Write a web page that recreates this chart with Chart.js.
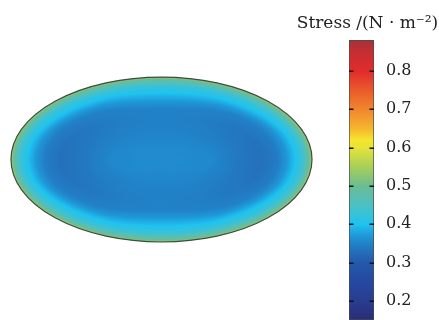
<!DOCTYPE html>
<html>
<head>
<meta charset="utf-8">
<script src="https://cdn.jsdelivr.net/npm/chart.js@4.4.1/dist/chart.umd.min.js"></script>
<style>
  html, body { margin: 0; padding: 0; background: #fff; }
  #wrap { position: relative; width: 439px; height: 320px; overflow: hidden; }
  #field { position: absolute; left: 0; top: 0; width: 323px; height: 320px; }
  #bar { position: absolute; left: 296px; top: 0; width: 143px; height: 320px; }
</style>
</head>
<body>
<div id="wrap">
  <div id="field"><canvas id="fieldCanvas"></canvas></div>
  <div id="bar"><canvas id="barCanvas"></canvas></div>
</div>
<script>
// membrane semi-axes (length units)
const semiAxisX = 1.0;
const semiAxisY = 0.548;

// stress walking in from the rim along the long axis
const sideDepth  = [0, 0.027, 0.06, 0.113, 0.166, 0.233, 0.332, 0.465, 0.664, 1.0];
const sideStress = [0.54, 0.48, 0.435, 0.40, 0.37, 0.343, 0.33, 0.337, 0.355, 0.36];

// stress walking in from the rim along the short axis
const topDepth  = [0, 0.027, 0.053, 0.106, 0.16, 0.213, 0.3, 0.548];
const topStress = [0.53, 0.475, 0.435, 0.40, 0.37, 0.35, 0.348, 0.36];

// colour bar range and ticks
const barRange   = [0.1504, 0.8809];
const tickValues = [0.2, 0.3, 0.4, 0.5, 0.6, 0.7, 0.8];

// jet-like colour map
const cmapStops  = [0.15, 0.2, 0.25, 0.3, 0.33, 0.35, 0.37, 0.4, 0.45, 0.5, 0.55, 0.6, 0.62, 0.65, 0.7, 0.75, 0.8, 0.85, 0.88];
const cmapColors = ['#2b2d74', '#293d90', '#2549a0', '#2459aa', '#2470bb', '#2182c8', '#1f98d8', '#1ec3f0',
                    '#4cc0c4', '#6cbc94', '#a8cf58', '#e6e33a', '#f5e52e', '#f5b52e', '#f0862d', '#ea5a2b',
                    '#e22b2c', '#c52e33', '#a2323b'];

const cmapRgb = cmapColors.map(h => [1, 3, 5].map(i => parseInt(h.substr(i, 2), 16)));

function lerpTable(xs, ys, v) {
  if (v <= xs[0]) return ys[0];
  for (let i = 1; i < xs.length; i++) {
    if (v <= xs[i]) {
      const t = (v - xs[i - 1]) / (xs[i] - xs[i - 1]);
      return ys[i - 1] + t * (ys[i] - ys[i - 1]);
    }
  }
  return ys[ys.length - 1];
}

function stressColor(s) {
  const n = cmapStops.length;
  if (s <= cmapStops[0]) return cmapRgb[0];
  if (s >= cmapStops[n - 1]) return cmapRgb[n - 1];
  let i = 1;
  while (s > cmapStops[i]) i++;
  const t = (s - cmapStops[i - 1]) / (cmapStops[i] - cmapStops[i - 1]);
  const a = cmapRgb[i - 1], b = cmapRgb[i];
  return [0, 1, 2].map(k => a[k] + t * (b[k] - a[k]));
}

// paints the stress field inside the ellipse, then its outline
const stressField = {
  id: 'stressField',
  beforeDatasetsDraw(chart) {
    const { ctx, scales: { x, y } } = chart;
    const cx = x.getPixelForValue(0), cy = y.getPixelForValue(0);
    const rx = x.getPixelForValue(semiAxisX) - cx;
    const ry = cy - y.getPixelForValue(semiAxisY);
    const x0 = Math.floor(cx - rx - 2), x1 = Math.ceil(cx + rx + 2);
    const y0 = Math.floor(cy - ry - 2), y1 = Math.ceil(cy + ry + 2);
    const w = x1 - x0, h = y1 - y0;

    const off = document.createElement('canvas');
    off.width = w; off.height = h;
    const octx = off.getContext('2d');
    const img = octx.createImageData(w, h);

    for (let j = 0; j < h; j++) {
      const dy = y.getValueForPixel(y0 + j + 0.5);
      for (let i = 0; i < w; i++) {
        const dx = x.getValueForPixel(x0 + i + 0.5);
        const u = dx / semiAxisX, v = dy / semiAxisY;
        const r = Math.hypot(u, v);
        let depth = Infinity;
        if (r > 1e-6) {
          const dRay = Math.hypot(dx, dy) * (1 - r) / r;
          const g = 2 * Math.hypot(dx / (semiAxisX * semiAxisX), dy / (semiAxisY * semiAxisY));
          const dGrad = (1 - r * r) / g;
          depth = Math.max(0, Math.min(dRay, dGrad));
        }
        const wSide = (u * u) / (u * u + v * v + 1e-12);
        const s = wSide * lerpTable(sideDepth, sideStress, depth) +
                  (1 - wSide) * lerpTable(topDepth, topStress, depth);
        const c = stressColor(s);
        const p = (j * w + i) * 4;
        img.data[p] = c[0]; img.data[p + 1] = c[1]; img.data[p + 2] = c[2]; img.data[p + 3] = 255;
      }
    }
    octx.putImageData(img, 0, 0);

    ctx.save();
    ctx.beginPath();
    ctx.ellipse(cx, cy, rx, ry, 0, 0, Math.PI * 2);
    ctx.clip();
    ctx.drawImage(off, x0, y0);
    ctx.restore();

    ctx.save();
    ctx.beginPath();
    ctx.ellipse(cx, cy, rx, ry, 0, 0, Math.PI * 2);
    ctx.strokeStyle = '#3f4a40';
    ctx.lineWidth = 1.2;
    ctx.stroke();
    ctx.restore();
  }
};

new Chart(document.getElementById('fieldCanvas'), {
  type: 'scatter',
  data: { datasets: [] },
  options: {
    responsive: true,
    maintainAspectRatio: false,
    animation: false,
    layout: { padding: 0 },
    plugins: { legend: { display: false }, tooltip: { enabled: false } },
    scales: {
      x: { type: 'linear', min: -1.073, max: 1.073, display: false },
      y: { type: 'linear', min: -1.0664, max: 1.0598, display: false }
    }
  },
  plugins: [stressField]
});

// little inward ticks on both edges of the colour bar
const barTicks = {
  id: 'barTicks',
  afterDatasetsDraw(chart) {
    const { ctx, chartArea: a, scales: { y } } = chart;
    ctx.save();
    ctx.strokeStyle = '#111';
    ctx.lineWidth = 1.5;
    tickValues.forEach(v => {
      const py = Math.round(y.getPixelForValue(v)) + 0.25;
      ctx.beginPath();
      ctx.moveTo(a.left, py); ctx.lineTo(a.left + 4.5, py);
      ctx.moveTo(a.right - 4.5, py); ctx.lineTo(a.right, py);
      ctx.stroke();
    });
    ctx.restore();
  }
};

new Chart(document.getElementById('barCanvas'), {
  type: 'bar',
  data: {
    labels: [''],
    datasets: [{
      xAxisID: 'x',
      yAxisID: 'y',
      data: [barRange],
      backgroundColor: c => {
        const chart = c.chart;
        if (!chart.chartArea) return '#fff';
        const ys = chart.scales.y;
        const lo = cmapStops[0], hi = cmapStops[cmapStops.length - 1];
        const g = chart.ctx.createLinearGradient(0, ys.getPixelForValue(lo), 0, ys.getPixelForValue(hi));
        cmapStops.forEach((v, i) => g.addColorStop((v - lo) / (hi - lo), cmapColors[i]));
        return g;
      },
      borderColor: '#4a4a4a',
      borderWidth: 1,
      borderSkipped: false,
      barPercentage: 1,
      categoryPercentage: 1
    }]
  },
  options: {
    responsive: true,
    maintainAspectRatio: false,
    animation: false,
    layout: { padding: 0 },
    plugins: {
      legend: { display: false },
      tooltip: { enabled: false },
      title: {
        display: true,
        text: 'Stress /(N · m⁻²)',
        color: '#222',
        font: { family: 'DejaVu Serif', size: 17, weight: 'normal' },
        padding: { top: 13, bottom: 6.6 }
      }
    },
    scales: {
      x: { display: false },
      y: {
        position: 'right',
        min: barRange[0],
        max: barRange[1],
        afterBuildTicks: s => { s.ticks = tickValues.map(v => ({ value: v })); },
        afterFit: s => { s.width = 65; s.paddingTop = 0; s.paddingBottom = 0; },
        grid: { display: false, drawTicks: false },
        border: { display: false },
        ticks: {
          padding: 12,
          color: '#222',
          font: { family: 'DejaVu Serif', size: 16 },
          callback: v => v.toFixed(1)
        }
      },
      // empty left axis only reserves room before the bar
      gap: {
        type: 'linear',
        axis: 'y',
        position: 'left',
        min: 0,
        max: 1,
        grid: { display: false },
        border: { display: false },
        ticks: { display: false },
        afterFit: s => { s.width = 53; s.paddingTop = 0; s.paddingBottom = 0; }
      }
    }
  },
  plugins: [barTicks]
});
</script>
</body>
</html>
